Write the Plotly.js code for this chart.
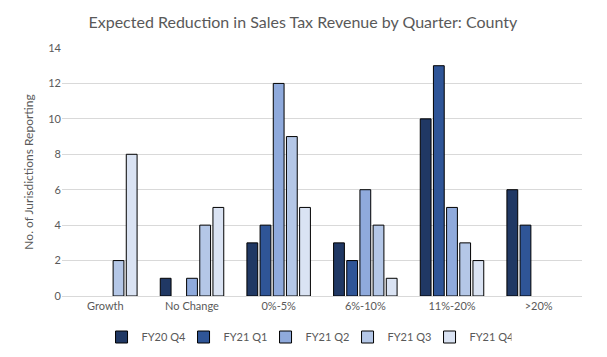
<!DOCTYPE html>
<html><head><meta charset="utf-8">
<script src="https://cdn.plot.ly/plotly-3.0.1.min.js"></script>
<style>body{margin:0;padding:0;background:#fff}#chart{width:607px;height:357px}</style>
</head><body><div id="chart"></div>
<script>
const categories = ["Growth", "No Change", "0%-5%", "6%-10%", "11%-20%", ">20%"];
const seriesNames = ["FY20 Q4", "FY21 Q1", "FY21 Q2", "FY21 Q3", "FY21 Q4"];
const fy20q4 = [0, 1, 3, 3, 10, 6];
const fy21q1 = [0, 0, 4, 2, 13, 4];
const fy21q2 = [0, 1, 12, 6, 5, 0];
const fy21q3 = [2, 4, 9, 4, 3, 0];
const fy21q4 = [8, 5, 5, 1, 2, 0];
const yTicks = [0, 2, 4, 6, 8, 10, 12, 14];

const colors = ["#203864", "#2f5597", "#8faadc", "#b4c7e7", "#dae3f3"];
const allValues = [fy20q4, fy21q1, fy21q2, fy21q3, fy21q4];
const font = "Lato, Open Sans, sans-serif";

const traces = allValues.map((vals, i) => ({
  type: "bar", name: seriesNames[i], x: categories,
  y: vals.map(v => v === 0 ? null : v),
  marker: {color: colors[i], line: {color: "#000000", width: 1}}
}));

const layout = {
  width: 607, height: 357,
  margin: {l: 62, r: 25, t: 48, b: 61},
  paper_bgcolor: "#ffffff", plot_bgcolor: "#ffffff",
  barmode: "group", bargap: 0.24, bargroupgap: 0.18,
  title: {text: "Expected Reduction in Sales Tax Revenue by Quarter: County",
          xref: "container", x: 0.499, xanchor: "center",
          yref: "container", y: 0.938, yanchor: "middle",
          font: {family: font, size: 16, color: "#595959"}},
  xaxis: {showgrid: false, zeroline: false, showline: true, linecolor: "#d9d9d9",
          ticks: "", tickfont: {family: font, size: 11, color: "#595959"}},
  yaxis: {range: [0, 14], tickvals: yTicks, ticktext: yTicks.map(String),
          showgrid: true, gridcolor: "#d9d9d9", zeroline: false, showline: false,
          ticks: "", tickfont: {family: font, size: 11, color: "#595959"},
          title: {text: "No. of Jurisdictions Reporting", standoff: 12,
                  font: {family: font, size: 12, color: "#595959"}}},
  legend: {orientation: "h", xref: "container", x: 0.505, xanchor: "center",
           yref: "container", y: 0.056, yanchor: "middle",
           font: {family: font, size: 11, color: "#595959"}, borderwidth: 0,
           itemwidth: 30, entrywidth: 37, entrywidthmode: "pixels", traceorder: "normal"},
  showlegend: true
};
Plotly.newPlot("chart", traces, layout, {displayModeBar: false, staticPlot: true});
</script></body></html>
